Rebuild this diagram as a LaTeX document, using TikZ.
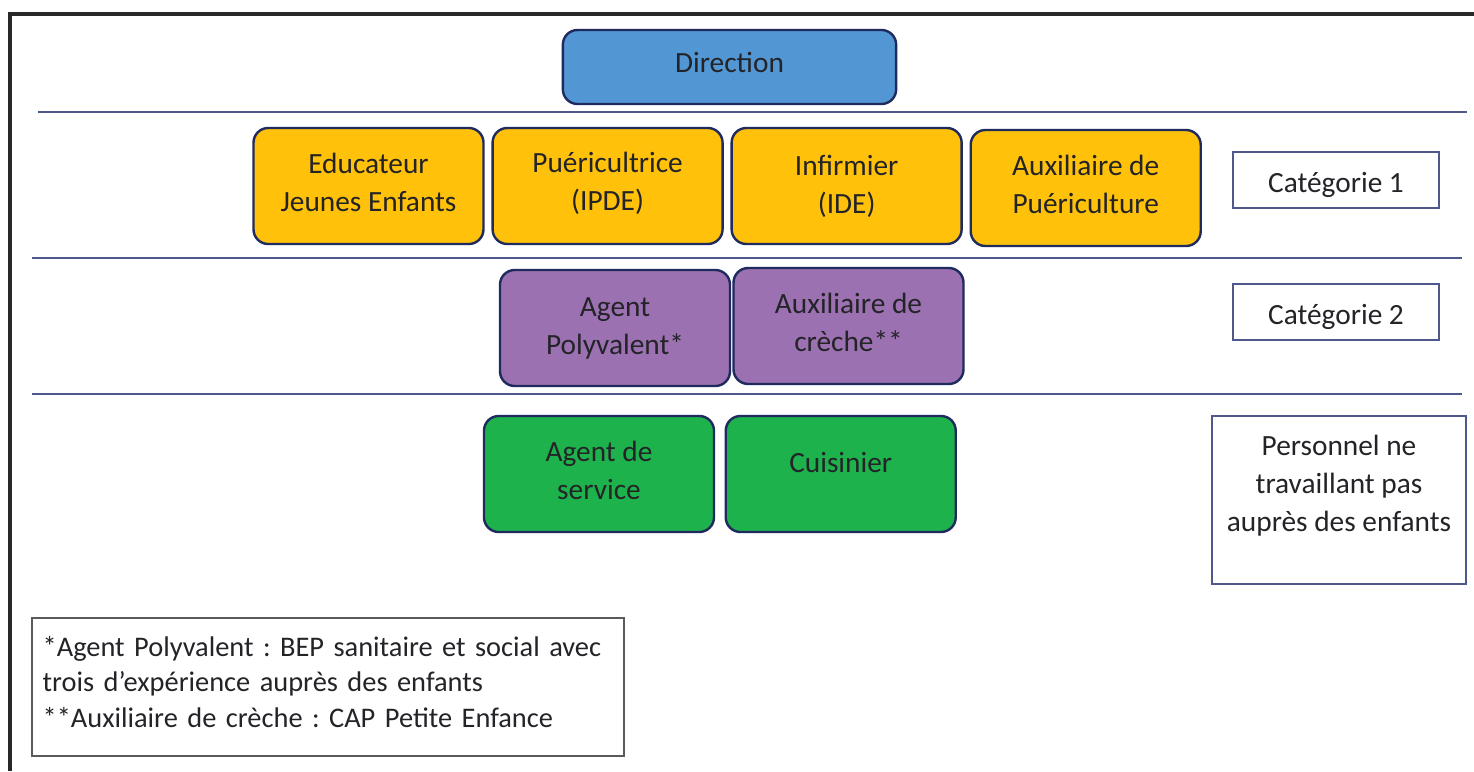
\documentclass[tikz,border=0pt]{standalone}
\usepackage{fontspec}
\setmainfont{Carlito}
\frenchspacing
\usetikzlibrary{positioning}

\definecolor{dirblue}{RGB}{82,151,211}
\definecolor{catyellow}{RGB}{255,193,10}
\definecolor{catpurple}{RGB}{156,113,177}
\definecolor{catgreen}{RGB}{30,178,76}
\definecolor{boxborder}{RGB}{31,42,94}
\definecolor{sepline}{RGB}{78,88,138}
\definecolor{textdark}{RGB}{35,35,40}
\definecolor{notegray}{RGB}{90,90,90}
\definecolor{framegray}{RGB}{40,40,40}

\begin{document}
\begin{tikzpicture}
  [x=0.75pt,y=-0.75pt,node distance=5pt,
   every node/.style={text=textdark,font=\fontsize{22}{28.5}\selectfont},
   role/.style={rectangle,rounded corners=11pt,draw=boxborder,line width=1.8pt,
     minimum width=172.5pt,minimum height=87pt,align=center},
   blue role/.style={role,fill=dirblue,minimum width=250pt,minimum height=55.5pt},
   yellow role/.style={role,fill=catyellow},
   purple role/.style={role,fill=catpurple},
   green role/.style={role,fill=catgreen},
   legend/.style={rectangle,draw=sepline,line width=1pt,align=center},
   separator/.style={draw=sepline,line width=1.1pt}]

  \useasboundingbox (0,0) rectangle (1474,771);
  \draw [framegray,line width=2.4pt] (10,771) -- (10,14) -- (1474,14);

  % Direction
  \node [blue role,text height=15pt,text depth=7.5pt] (dir) at (729.5,67) {Direction};
  \coordinate (s1l) at (38,112);   \coordinate (s1r) at (1467,112);
  \draw [separator] (s1l) -- (s1r);

  % Categorie 1
  \node [yellow role,text depth=5pt] (eje) at (368.5,186) {Educateur\\Jeunes Enfants};
  \node [yellow role,text depth=6.5pt] (pue) [right=of eje]  {Puéricultrice\\(IPDE)};
  \node [yellow role] (ide) [right=of pue]  {Infirmier\\(IDE)};
  \node [yellow role,text depth=5.5pt] (apu) [right=of ide,yshift=-1.5pt] {Auxiliaire de\\Puériculture};
  \node [legend,minimum width=154.5pt,minimum height=42pt,text height=23pt,text depth=4pt]
    (cat1) at (1336,180) {Catégorie 1};
  \coordinate (s2l) at (32,258);   \coordinate (s2r) at (1462,258);
  \draw [separator] (s2l) -- (s2r);

  % Categorie 2
  \node [purple role] (agp) at (615,328)    {Agent\\Polyvalent*};
  \node [purple role,text depth=5pt] (acr) at (848.5,326)  {Auxiliaire de\\crèche**};
  \node [legend,minimum width=154.5pt,minimum height=42pt,text height=23pt,text depth=4pt]
    (cat2) at (1336,312) {Catégorie 2};
  \coordinate (s3l) at (32,394);   \coordinate (s3r) at (1462,394);
  \draw [separator] (s3l) -- (s3r);

  % Personnel hors enfants
  \node [green role,text depth=6pt] (ags) at (599,474) {Agent de\\service};
  \node [green role,text height=15pt,text depth=18pt] (cui) [right=7pt of ags] {Cuisinier};
  \node [legend,minimum width=190.5pt,minimum height=126pt] (pers) at (1339,500) {};
  \node [align=center] (perstext) at ([yshift=10.5pt]pers.center)
    {Personnel ne\\travaillant pas\\auprès des enfants};

  % Notes
  \node [draw=notegray,line width=1.1pt,text width=428pt,inner xsep=8pt,
         minimum height=103.5pt,align=left,text depth=61.5pt,
         font=\fontsize{21.3}{26.8}\selectfont] (note) at (328,687)
    {*Agent Polyvalent : BEP sanitaire et social avec\\
     trois d’expérience auprès des enfants\\ {}**Auxiliaire de crèche : CAP Petite Enfance};

\end{tikzpicture}
\end{document}
